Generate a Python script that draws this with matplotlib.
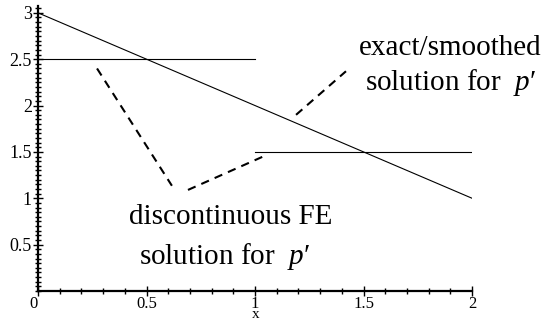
import matplotlib

matplotlib.use("Agg")
import matplotlib.pyplot as plt
from matplotlib.ticker import MultipleLocator

plt.rcParams["font.family"] = ["Liberation Serif", "DejaVu Serif"]
plt.rcParams["mathtext.fontset"] = "custom"
plt.rcParams["mathtext.it"] = "Liberation Serif:italic"
plt.rcParams["mathtext.rm"] = "Liberation Serif"

# exact / smoothed solution: straight line
exact_x = [0.0, 2.0]
exact_y = [3.0, 1.0]

# discontinuous FE solution: piecewise constant
fe_left_x = [0.0, 1.0]
fe_left_y = [2.5, 2.5]
fe_right_x = [1.0, 2.0]
fe_right_y = [1.5, 1.5]

# dashed leader lines (data coords)
leader_fe_a_x = [0.272, 0.617]
leader_fe_a_y = [2.40, 1.135]
leader_fe_b_x = [0.691, 1.037]
leader_fe_b_y = [1.09, 1.45]
leader_ex_x = [1.189, 1.419]
leader_ex_y = [1.90, 2.37]

x_ticks = [0, 0.5, 1, 1.5, 2]
x_labels = ["0", "0.5", "1", "1.5", "2"]
y_ticks = [0.5, 1, 1.5, 2, 2.5, 3]
y_labels = ["0.5", "1", "1.5", "2", "2.5", "3"]

fig = plt.figure(figsize=(5.46, 3.22), dpi=100)
ax = fig.add_axes([0.0696, 0.0963, 0.795, 0.884])

ax.plot(exact_x, exact_y, color="black", lw=0.8)
ax.plot(fe_left_x, fe_left_y, color="black", lw=0.8)
ax.plot(fe_right_x, fe_right_y, color="black", lw=0.8)

dash = dict(color="black", lw=1.5, linestyle=(0, (4, 3)))
ax.plot(leader_fe_a_x, leader_fe_a_y, **dash)
ax.plot(leader_fe_b_x, leader_fe_b_y, **dash)
ax.plot(leader_ex_x, leader_ex_y, **dash)

ax.set_xlim(0, 2)
ax.set_ylim(0, 3.07)

for s in ("top", "right"):
    ax.spines[s].set_visible(False)
for s in ("left", "bottom"):
    ax.spines[s].set_linewidth(1.6)

ax.set_xticks(x_ticks)
ax.set_xticklabels(x_labels)
ax.set_yticks(y_ticks)
ax.set_yticklabels(y_labels)
ax.xaxis.set_minor_locator(MultipleLocator(0.1))
ax.yaxis.set_minor_locator(MultipleLocator(0.05))
ax.tick_params(which="both", direction="inout", width=1.0, labelsize=13, pad=1)
ax.tick_params(which="major", length=7)
ax.tick_params(which="minor", length=4)
ax.tick_params(axis="x", pad=0, labelsize=12)
ax.get_xticklabels()[0].set_horizontalalignment("right")

fig.text(256 / 546, 1 / 322, "x", ha="center", va="bottom", fontsize=11)

fs = 21
ax.text(1.90, 2.62, "exact/smoothed", ha="center", va="center", fontsize=fs)
ax.text(1.90, 2.25, "solution for  $p$′", ha="center", va="center", fontsize=fs)
ax.text(0.89, 0.80, "discontinuous FE", ha="center", va="center", fontsize=fs)
ax.text(0.86, 0.37, "solution for  $p$′", ha="center", va="center", fontsize=fs)

fig.savefig("out.png", dpi=100)
